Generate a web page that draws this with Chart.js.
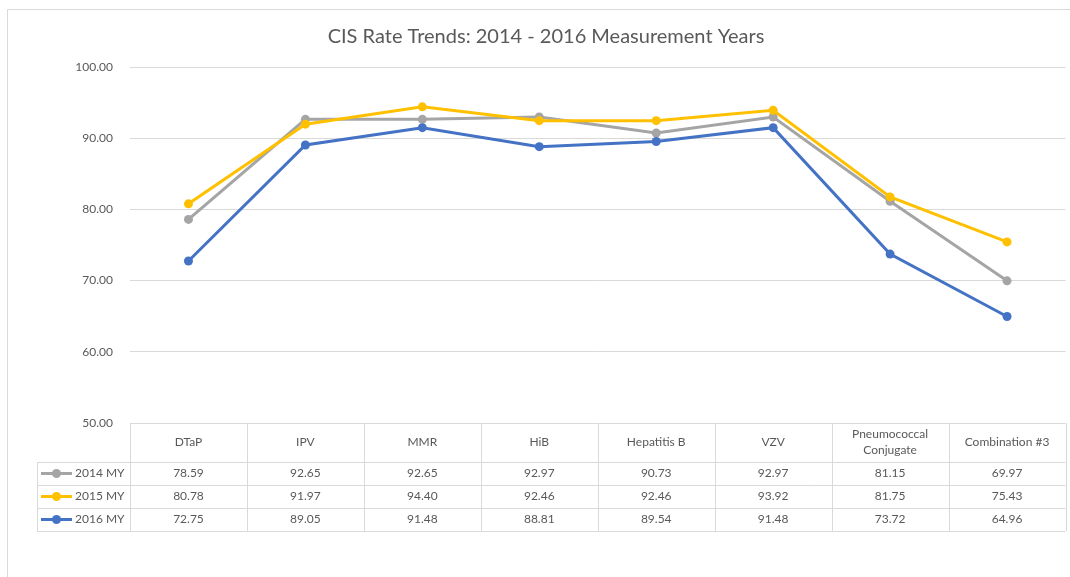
<!DOCTYPE html>
<html>
<head>
<meta charset="utf-8">
<title>CIS Rate Trends</title>
<script src="https://cdn.jsdelivr.net/npm/chart.js@4.4.0/dist/chart.umd.min.js"></script>
<style>
  body { margin: 0; background: #fff; }
  .chart-wrapper { position: relative; width: 1070px; height: 577px; }
</style>
</head>
<body>
<div class="chart-wrapper">
  <canvas id="myChart"></canvas>
</div>
<script>
const chartTitle = 'CIS Rate Trends: 2014 - 2016 Measurement Years';
const categories = ['DTaP', 'IPV', 'MMR', 'HiB', 'Hepatitis B', 'VZV', ['Pneumococcal', 'Conjugate'], 'Combination #3'];
const seriesNames = ['2014 MY', '2015 MY', '2016 MY'];
const rates2014 = [78.59, 92.65, 92.65, 92.97, 90.73, 92.97, 81.15, 69.97];
const rates2015 = [80.78, 91.97, 94.40, 92.46, 92.46, 93.92, 81.75, 75.43];
const rates2016 = [72.75, 89.05, 91.48, 88.81, 89.54, 91.48, 73.72, 64.96];
const yTicks = [50, 60, 70, 80, 90, 100];

const FONT = 'Lato, "Open Sans", sans-serif';
const TEXT = '#595959';
const LINE = '#d9d9d9';
const colors = ['#a5a5a5', '#ffc000', '#4472c4'];

// title, outer border and the data table under the plot
const tablePlugin = {
  id: 'dataTable',
  afterDraw(chart) {
    const ctx = chart.ctx;
    const x = chart.scales.x;
    const area = chart.chartArea;
    const w = (area.right - area.left) / categories.length;
    const top = area.bottom;
    const headH = 39, rowH = 23;
    const legLeft = 37;
    const bottom = top + headH + rowH * 3;

    ctx.save();
    // outer frame
    ctx.strokeStyle = LINE;
    ctx.lineWidth = 1;
    ctx.beginPath();
    ctx.moveTo(7.5, 577); ctx.lineTo(7.5, 9.5); ctx.lineTo(1070, 9.5);
    ctx.stroke();

    // title
    ctx.fillStyle = TEXT;
    ctx.font = '20px ' + FONT;
    ctx.textAlign = 'center';
    ctx.textBaseline = 'middle';
    ctx.fillText(chartTitle, 546, 37);

    // table lines
    ctx.beginPath();
    for (let i = 0; i <= categories.length; i++) {
      const px = Math.round(area.left + i * w) + 0.5;
      ctx.moveTo(px, top); ctx.lineTo(px, bottom);
    }
    for (let r = 0; r <= 3; r++) {
      const py = Math.round(top + headH + r * rowH) + 0.5;
      ctx.moveTo(legLeft, py); ctx.lineTo(area.right, py);
    }
    ctx.moveTo(legLeft + 0.5, top + headH); ctx.lineTo(legLeft + 0.5, bottom);
    ctx.stroke();

    // header
    ctx.font = '12px ' + FONT;
    ctx.fillStyle = TEXT;
    categories.forEach((c, i) => {
      const cx = x.getPixelForValue(i);
      const lines = Array.isArray(c) ? c : [c];
      const lh = 16;
      const y0 = top + headH / 2 - (lines.length - 1) * lh / 2;
      lines.forEach((t, k) => ctx.fillText(t, cx, y0 + k * lh));
    });

    // rows
    const allRates = [rates2014, rates2015, rates2016];
    allRates.forEach((vals, r) => {
      const cy = top + headH + r * rowH + rowH / 2;
      vals.forEach((v, i) => {
        ctx.fillStyle = TEXT;
        ctx.textAlign = 'center';
        ctx.fillText(v.toFixed(2), x.getPixelForValue(i), cy);
      });
      // legend key
      ctx.strokeStyle = colors[r];
      ctx.lineWidth = 3;
      ctx.beginPath();
      ctx.moveTo(41, cy); ctx.lineTo(72, cy);
      ctx.stroke();
      ctx.fillStyle = colors[r];
      ctx.beginPath();
      ctx.arc(56.5, cy, 4.5, 0, Math.PI * 2);
      ctx.fill();
      ctx.fillStyle = TEXT;
      ctx.textAlign = 'left';
      ctx.fillText(seriesNames[r], 75, cy);
    });
    ctx.restore();
  }
};

const ctx = document.getElementById('myChart');
const makeSet = (label, data, i, order) => ({
  label: label,
  data: data,
  borderColor: colors[i],
  backgroundColor: colors[i],
  borderWidth: 3,
  pointRadius: 4.5,
  pointBorderWidth: 0,
  pointBackgroundColor: colors[i],
  tension: 0,
  order: order
});

const myChart = new Chart(ctx, {
  type: 'line',
  data: {
    labels: categories,
    datasets: [
      makeSet(seriesNames[0], rates2014, 0, 3),
      makeSet(seriesNames[1], rates2015, 1, 2),
      makeSet(seriesNames[2], rates2016, 2, 1)
    ]
  },
  options: {
    responsive: true,
    maintainAspectRatio: false,
    animation: false,
    layout: { padding: { left: 0, right: 2, top: 67, bottom: 154 } },
    plugins: {
      legend: { display: false },
      title: { display: false },
      tooltip: { enabled: false }
    },
    scales: {
      x: {
        display: false,
        offset: true
      },
      y: {
        min: 50,
        max: 100,
        afterBuildTicks: (scale) => { scale.ticks = yTicks.map(v => ({ value: v })); },
        afterFit: (scale) => { scale.width = 130; },
        border: { display: false },
        grid: { color: LINE, drawTicks: false },
        ticks: {
          padding: 17,
          color: TEXT,
          font: { family: FONT, size: 12 },
          callback: (v) => Number(v).toFixed(2)
        }
      }
    }
  },
  plugins: [tablePlugin]
});
</script>
</body>
</html>
